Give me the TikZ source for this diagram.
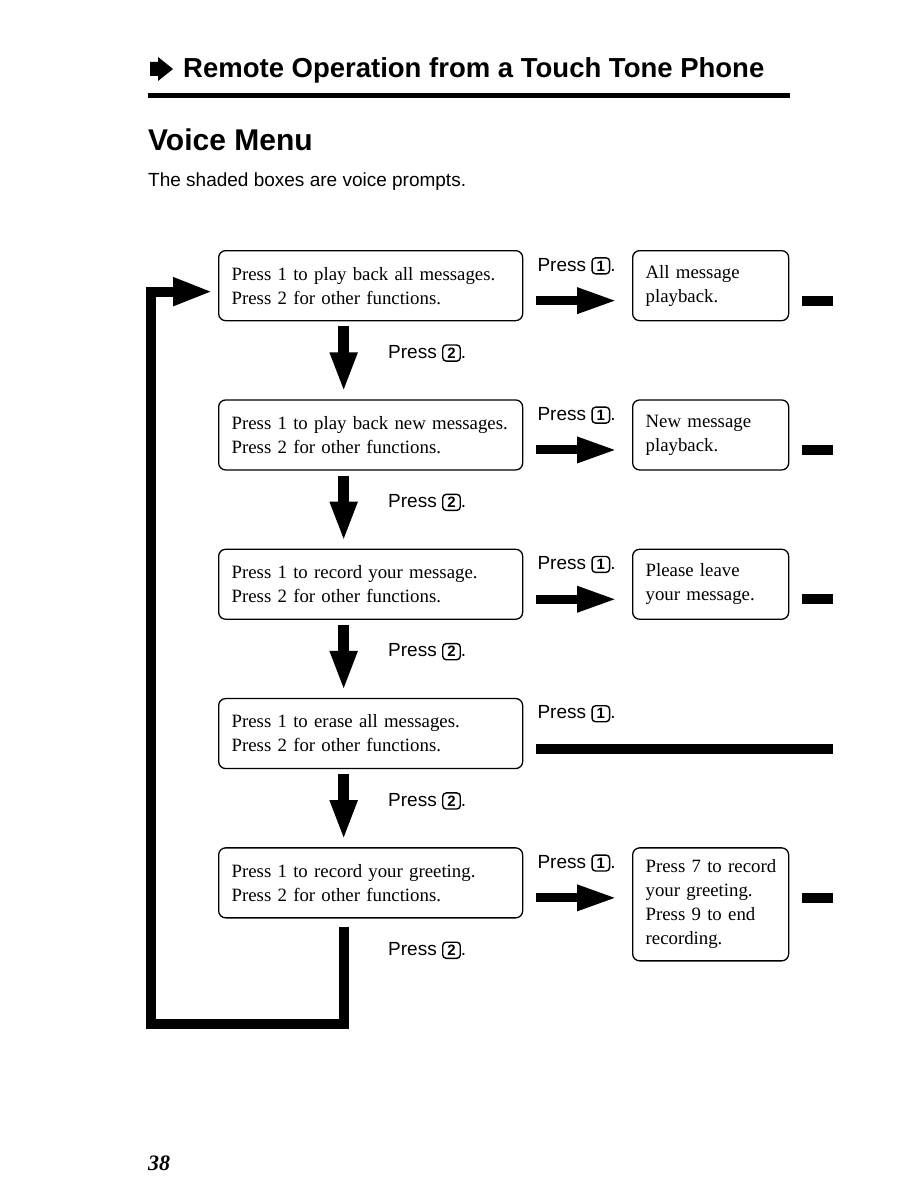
\documentclass[tikz,border=0pt]{standalone}
\usepackage{fontspec}
\setmainfont{Liberation Serif}
\setsansfont{Liberation Sans}
\usetikzlibrary{arrows.meta}
\newcommand\keycap[1]{\tikz[baseline=(kc.base)]\node[draw,line width=1.4pt,rounded corners=3.5pt,inner xsep=4.6pt,inner ysep=2.8pt,font=\sffamily\bfseries\fontsize{15}{15}\selectfont](kc){#1};}
\begin{document}
\begin{tikzpicture}[x=1pt,y=-1pt,
  menubox/.style={draw, line width=1.3pt, rounded corners=7pt, minimum height=70pt, text width=278pt, inner xsep=13pt, align=left, anchor=north west, font=\fontsize{18.8}{24}\selectfont},
  promptbox/.style={menubox, text width=130pt},
  presslbl/.style={anchor=base west, inner sep=0pt, font=\sffamily\fontsize{19}{19}\selectfont},
  rarrow/.style={line width=9pt, -{Triangle[length=40pt,width=24pt]}},
  darrow/.style={line width=11pt, -{Triangle[length=40pt,width=25pt]}},
  loopline/.style={line width=10pt, line join=miter, -{Triangle[length=40pt,width=26pt]}},
  stub/.style={line width=10pt}]
\useasboundingbox (0,0) rectangle (918,1188);

% header
\fill (150,62) -- (158,62) -- (158,57) -- (173,69) -- (158,81) -- (158,76) -- (150,76) -- cycle;
\node[anchor=base west, inner sep=0pt, font=\sffamily\bfseries\fontsize{27.5}{27.5}\selectfont] (title) at (183,78) {Remote Operation from a Touch Tone Phone};
\fill (148,93) rectangle (790,98);
\node[anchor=base west, inner sep=0pt, font=\sffamily\bfseries\fontsize{30}{30}\selectfont] (vm) at (148,150) {Voice Menu};
\node[anchor=base west, inner sep=0pt, font=\sffamily\fontsize{19}{19}\selectfont] (sub) at (148,186) {The shaded boxes are voice prompts.};

% menu boxes
\node[menubox] (lb1) at (218,250) {\mbox{Press 1 to play back all messages.}\\\mbox{Press 2 for other functions.}};
\node[menubox] (lb2) at (218,399.3) {\mbox{Press 1 to play back new messages.}\\\mbox{Press 2 for other functions.}};
\node[menubox] (lb3) at (218,548.6) {\mbox{Press 1 to record your message.}\\\mbox{Press 2 for other functions.}};
\node[menubox] (lb4) at (218,697.9) {\mbox{Press 1 to erase all messages.}\\\mbox{Press 2 for other functions.}};
\node[menubox] (lb5) at (218,847.2) {\mbox{Press 1 to record your greeting.}\\\mbox{Press 2 for other functions.}};

% prompt boxes
\node[promptbox] (rb1) at (632,250) {All message\\playback.};
\node[promptbox] (rb2) at (632,399.3) {New message\\playback.};
\node[promptbox] (rb3) at (632,548.6) {Please leave\\your message.};
\node[promptbox, minimum height=113pt] (rb5) at (632,847.2) {\mbox{Press 7 to record}\\\mbox{your greeting.}\\\mbox{Press 9 to end}\\recording.};

% row reference coordinates
\foreach \i in {1,2,3,4,5}{
  \coordinate (ay\i) at ([yshift=-15pt]lb\i.east);
}

% Press 1 labels and arrows
\foreach \i in {1,2,3,4,5}{
  \node[presslbl] (p1l\i) at ([xshift=14pt,yshift=-21pt]lb\i.north east) {Press \keycap{1}.};
}
\foreach \i in {1,2,3,5}{
  \coordinate (ain\i) at (rb\i.west |- ay\i);
  \coordinate (aout\i) at (rb\i.east |- ay\i);
  \draw[rarrow] ([xshift=13pt]ay\i) -- ([xshift=-15pt]ain\i);
  \coordinate (stubend\i) at ([xshift=44pt]aout\i);
  \draw[stub] ([xshift=13pt]aout\i) -- (stubend\i);
}
\coordinate (erasend) at ([xshift=310pt]ay4);
\draw[stub] ([xshift=13pt]ay4) -- (erasend);

% Press 2 labels and down arrows
\foreach \i/\j in {1/2,2/3,3/4,4/5}{
  \node[presslbl] (p2l\i) at ([xshift=170pt,yshift=-37pt]lb\i.south west) {Press \keycap{2}.};
  \draw[darrow] ([xshift=-27pt,yshift=-5pt]lb\i.south) -- ([xshift=-27pt,yshift=7pt]lb\j.north);
}
\node[presslbl] (p2l5) at ([xshift=170pt,yshift=-37pt]lb5.south west) {Press \keycap{2}.};

% loop back
\coordinate (loopbl) at (151,1024);
\coordinate (loopbr) at ([xshift=-27pt]lb5.south |- loopbl);
\coordinate (looptl) at ([yshift=-6pt]lb1.west -| loopbl);
\draw[loopline] ([xshift=-27pt,yshift=-8pt]lb5.south) -- (loopbr) -- (loopbl) -- (looptl) -- ([xshift=-5pt,yshift=-6pt]lb1.west);

% page number
\node[anchor=base west, inner sep=0pt, font=\bfseries\itshape\fontsize{22}{22}\selectfont] (pg) at (148,1170) {38};
\end{tikzpicture}
\end{document}
